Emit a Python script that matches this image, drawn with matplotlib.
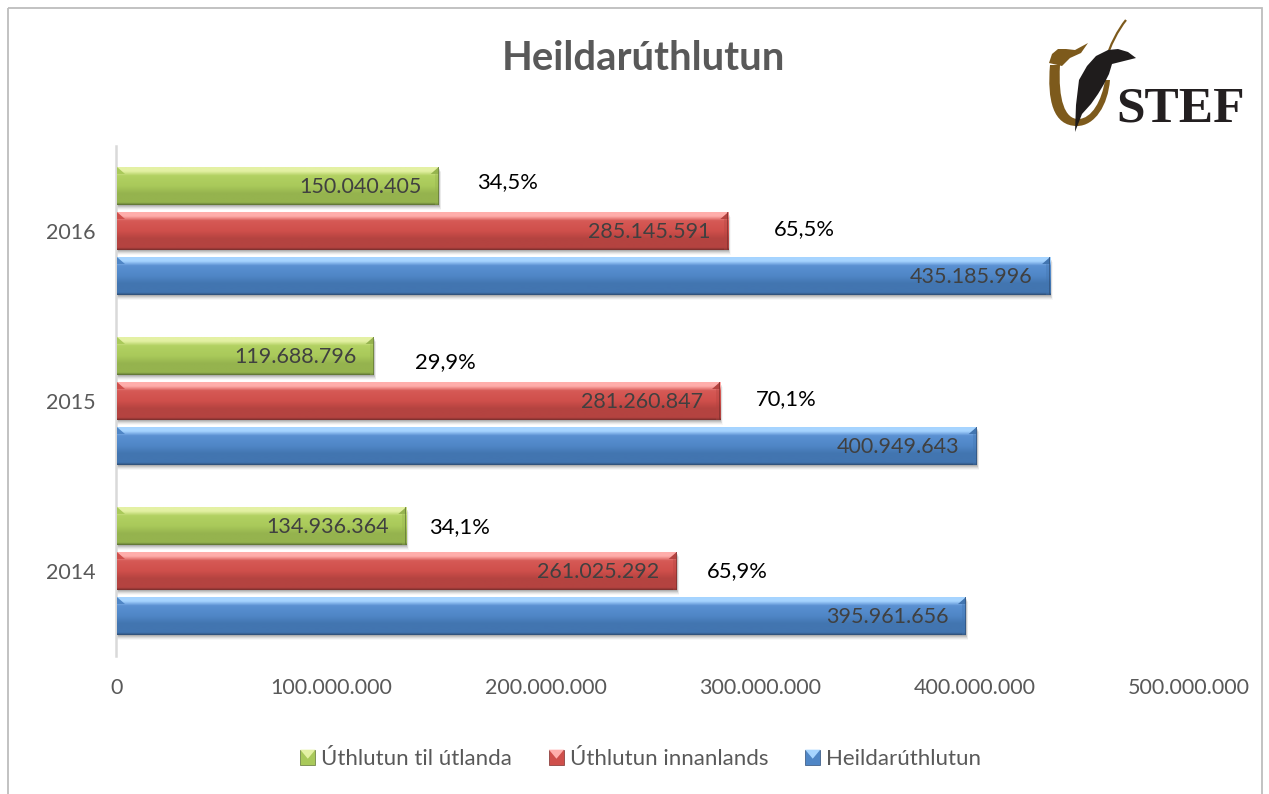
#coding=utf-8
import numpy as np
import matplotlib
matplotlib.use("Agg")
import matplotlib.pyplot as plt
from matplotlib.colors import LinearSegmentedColormap
from matplotlib.legend_handler import HandlerPatch
from matplotlib.patches import Patch, Polygon, Rectangle, PathPatch
from matplotlib.path import Path
from matplotlib.ticker import FuncFormatter

plt.rcParams['font.family'] = ['Lato', 'DejaVu Sans']

W, H = 1269, 794

years = ["2014", "2015", "2016"]
heild = [395961656, 400949643, 435185996]
innan = [261025292, 281260847, 285145591]
utan = [134936364, 119688796, 150040405]
innan_pct = ["65,9%", "70,1%", "65,5%"]
utan_pct = ["34,1%", "29,9%", "34,5%"]
names = ["Heildarúthlutun", "Úthlutun innanlands", "Úthlutun til útlanda"]

# (hilite, top, mid, low, edge) for each series
blue = ["#a6d4ff", "#5a90d2", "#4f86c6", "#4275b0", "#2f4f78"]
red = ["#ffaeab", "#d65a56", "#cf4f4b", "#b44340", "#7c2f2d"]
green = ["#e4f1a4", "#b2d162", "#a9c95a", "#95b34e", "#5f7335"]

# hand placed percent labels in the original: offset from the bar end (px, px)
innan_off = [(61, 0), (66, -2), (76, -2)]
utan_off = [(53, 1), (72, 6), (69, -4)]

fig = plt.figure(figsize=(W / 100, H / 100), dpi=100)

# background layer in pixel coordinates: frame and logo
bg = fig.add_axes([0, 0, 1, 1], zorder=0)
bg.set_xlim(0, W)
bg.set_ylim(H, 0)
bg.axis("off")
bg.add_patch(Rectangle((8, 8), 1254, 800, fill=False, ec="#bdbdbd", lw=1.3))

# logo
brown = "#7d5a1c"
C = Path.CURVE4
u_path = Path([(1050, 65), (1047, 100), (1053, 126), (1077, 126), (1095, 126), (1108, 105), (1110, 80),
               (1105, 80), (1102, 100), (1092, 119), (1078, 119), (1065, 119), (1058, 100), (1060, 65), (1050, 65)],
              [Path.MOVETO, C, C, C, C, C, C, Path.LINETO, C, C, C, C, C, C, Path.CLOSEPOLY])
bg.add_patch(PathPatch(u_path, fc=brown, ec="none"))
head = [(1049, 63), (1052, 54), (1058, 49), (1066, 49), (1075, 50), (1088, 43), (1081, 53), (1070, 58), (1062, 66)]
bg.add_patch(Polygon(head, closed=True, fc=brown, ec="none"))
stem = Path([(1105, 62), (1110, 45), (1118, 30), (1126, 20)], [Path.MOVETO, C, C, C])
bg.add_patch(PathPatch(stem, fill=False, ec=brown, lw=1.6))
feather = [(1075, 132), (1076, 105), (1079, 80), (1087, 66), (1096, 56), (1108, 50), (1118, 49), (1128, 52),
           (1136, 58), (1124, 61), (1112, 64), (1109, 74), (1104, 84), (1098, 94), (1091, 104), (1082, 114)]
bg.add_patch(Polygon(feather, closed=True, fc="#1f1c1c", ec="none"))
bg.text(1116, 122, "STEF", family="Liberation Serif", weight="bold", fontsize=37,
        color="#231f20", ha="left", va="baseline")

ax = fig.add_axes([117 / W, 1 - 656 / H, 1072 / W, 510 / H], zorder=1)
ax.patch.set_alpha(0)

y = np.arange(len(years))
bar_h = 0.2235
step = 0.265
px_x = 500e6 / 1072
px_y = 3 / 510

series = [(heild, -step, blue), (innan, 0, red), (utan, step, green)]
for vals, off, cols in series:
    bars = ax.barh(y + off, vals, height=bar_h, color=cols[2], zorder=3)
    cmap = LinearSegmentedColormap.from_list("b", [(0, cols[4]), (0.06, cols[3]), (0.3, cols[3]), (0.5, cols[2]),
                                                   (0.78, cols[1]), (0.9, cols[0]), (1, cols[0])])
    for b in bars:
        x0, w = b.get_x(), b.get_width()
        y0, h = b.get_y(), b.get_height()
        x1, y1 = x0 + w, y0 + h
        # soft shadow under and right of the bar
        for i, a in zip((5, 4, 3, 2, 1), (0.03, 0.05, 0.07, 0.09, 0.11)):
            ax.add_patch(Rectangle((x0, y0 - i * px_y), w + i * 0.5 * px_x, h, fc="black", ec="none",
                                   alpha=a, zorder=2))
        im = ax.imshow(np.linspace(0, 1, 64).reshape(-1, 1), cmap=cmap, aspect="auto", origin="lower",
                       extent=(x0, x1, y0, y1), zorder=3.1)
        im.set_clip_path(b)
        # mitred corners and faint side strips
        bx, by = 8 * px_x, 7 * px_y
        ax.add_patch(Polygon([(x0, y1), (x0 + bx, y1 - by), (x0, y1 - by)], fc=cols[2], ec="none", zorder=3.2))
        ax.add_patch(Polygon([(x1, y1), (x1 - bx, y1 - by), (x1, y1 - by)], fc=cols[3], ec="none", zorder=3.2))
        ax.add_patch(Polygon([(x1, y0), (x1, y1 - by), (x1 - bx * 0.5, y1 - by), (x1 - bx * 0.5, y0)],
                             fc=cols[3], ec="none", alpha=0.35, zorder=3.2))
        ax.add_patch(Rectangle((x1 - px_x, y0), px_x, h, fc=cols[4], ec="none", alpha=0.7, zorder=3.3))
        # data label, dots as thousand separators
        ax.annotate(f"{int(w):,}".replace(",", "."), (x1, y0 + h / 2), xytext=(-12.5, -0.5),
                    textcoords="offset points", ha="right", va="center",
                    fontsize=15.5, color="#404040", zorder=4)

for vals, off, pct, pos in [(innan, 0, innan_pct, innan_off), (utan, step, utan_pct, utan_off)]:
    for i in range(len(years)):
        ax.annotate(pct[i], (vals[i], y[i] + off),
                    xytext=(pos[i][0] * 0.72, -pos[i][1] * 0.72), textcoords="offset points",
                    ha="center", va="center", fontsize=15.8, color="black", zorder=4)

ax.set_xlim(0, 500e6)
ax.set_ylim(-0.5, 2.5)
ax.set_xticks(np.arange(0, 600e6, 100e6))
ax.xaxis.set_major_formatter(FuncFormatter(lambda v, p: f"{int(v):,}".replace(",", ".")))
ax.set_yticks(y)
ax.set_yticklabels(years)
ax.tick_params(axis="x", length=0, pad=15.5, labelsize=15.5, labelcolor="#595959")
ax.tick_params(axis="y", length=0, pad=15, labelsize=15.5, labelcolor="#595959")
for s in ["top", "right", "bottom"]:
    ax.spines[s].set_visible(False)
ax.spines["left"].set_color("#d9d9d9")
ax.spines["left"].set_linewidth(1.8)
ax.spines["left"].set_position(("outward", 0.7))

fig.text(643 / W, 1 - 59 / H, "Heildarúthlutun", ha="center", va="center",
         fontsize=28.8, weight="bold", color="#595959")


class BevelHandler(HandlerPatch):
    # small bevelled square as legend key
    def create_artists(self, legend, orig, xd, yd, width, height, fontsize, trans):
        s = height * 0.97
        x = (width - s) / 2
        y0 = (height - s) / 2
        sq = Rectangle((x, y0), s, s, fc=orig.get_facecolor(), ec=orig.get_edgecolor(), lw=0.5, transform=trans)
        tri = Polygon([(x, y0 + s), (x + s, y0 + s), (x + s / 2, y0 + s * 0.4)],
                      fc=orig.get_gid(), ec="none", transform=trans)
        return [sq, tri]


handles = []
for cols, name in [(green, names[2]), (red, names[1]), (blue, names[0])]:
    p = Patch(fc=cols[2], ec=cols[4], label=name)
    p.set_gid(cols[0])
    handles.append(p)
fig.legend(handles=handles, loc="center", bbox_to_anchor=(640 / W, 1 - 759 / H), ncol=3, frameon=False,
           fontsize=16, labelcolor="#595959", handlelength=0.8, handletextpad=0.2, columnspacing=1.6,
           handler_map={Patch: BevelHandler()})

fig.savefig("out.png", dpi=100)
